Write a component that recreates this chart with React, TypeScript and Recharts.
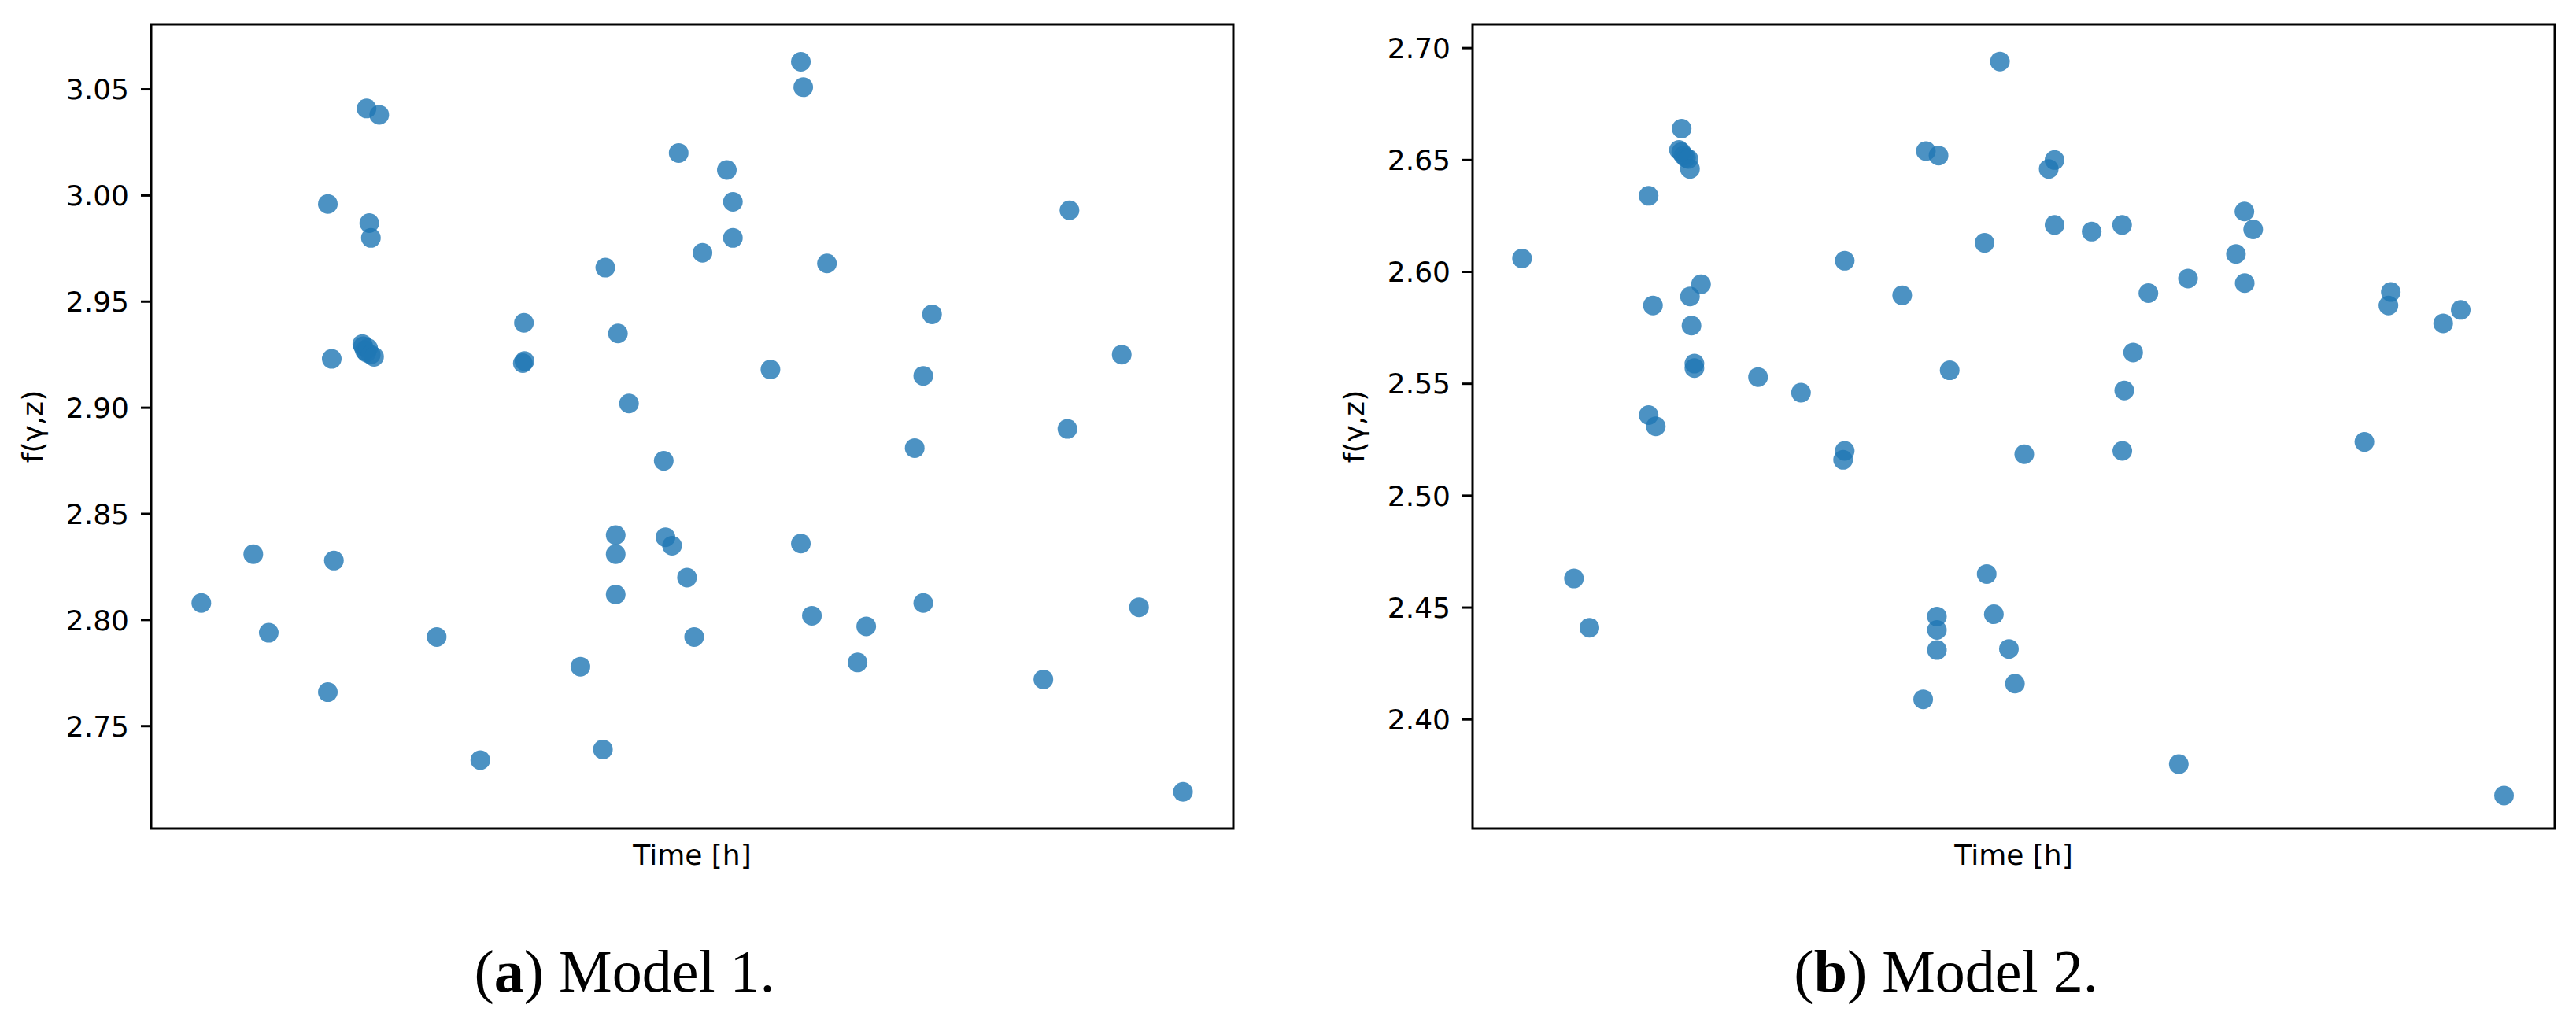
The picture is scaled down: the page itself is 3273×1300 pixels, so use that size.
import React from 'react';
import { ScatterChart, Scatter, XAxis, YAxis, ReferenceArea, Label } from 'recharts';

// Model 1: time (as % of the run) and f(γ,z)
const timeA = [
  4.64, 9.44, 10.87, 16.33, 16.33, 16.69, 16.89,
  19.52, 19.6, 19.75, 19.9, 20.05, 20.3, 20.6,
  19.91, 20.16, 20.31, 21.08, 26.39, 30.42, 34.35, 34.45, 34.5,
  39.67, 41.75, 41.97, 42.93, 42.93, 42.93, 43.14, 44.16,
  47.37, 47.53, 48.14, 48.75, 49.52, 50.18, 50.95,
  53.2, 53.76, 53.76, 57.23, 60.04, 60.26, 60.04, 61.06, 62.45,
  65.28, 66.08, 70.56, 71.35, 71.35, 72.16,
  82.45, 84.67, 84.86, 89.69, 91.29, 95.35,
];
const fA = [
  2.808, 2.831, 2.794, 2.766, 2.996, 2.923, 2.828,
  2.930, 2.929, 2.927, 2.926, 2.928, 2.925, 2.924,
  3.041, 2.987, 2.980, 3.038, 2.792, 2.734, 2.921, 2.940, 2.922,
  2.778, 2.739, 2.966, 2.840, 2.831, 2.812, 2.935, 2.902,
  2.875, 2.839, 2.835, 3.020, 2.820, 2.792, 2.973,
  3.012, 2.997, 2.980, 2.918, 3.063, 3.051, 2.836, 2.802, 2.968,
  2.780, 2.797, 2.881, 2.915, 2.808, 2.944,
  2.772, 2.890, 2.993, 2.925, 2.806, 2.719,
];

// Model 2
const timeB = [
  4.57, 9.37, 10.8, 16.27, 16.27, 16.67, 16.93,
  19.07, 19.29, 19.32, 19.51, 19.72, 19.94, 20.09, 20.09, 20.23, 20.5, 20.5, 21.11,
  26.38, 30.35, 34.24, 34.39, 34.39, 39.7,
  41.64, 41.89, 42.91, 42.91, 42.91, 43.06, 44.09,
  47.31, 47.51, 48.17, 48.73, 49.56, 50.12, 50.98,
  53.24, 53.78, 53.78, 57.21, 60.02, 60.04, 60.22, 61.04, 62.45,
  65.26, 66.11, 70.54, 71.32, 71.35, 72.13,
  82.41, 84.63, 84.85, 89.69, 91.31, 95.31,
];
const fB = [
  2.606, 2.463, 2.441, 2.634, 2.536, 2.585, 2.531,
  2.6545, 2.6535, 2.664, 2.652, 2.651, 2.6505, 2.646, 2.589, 2.576, 2.559, 2.557, 2.5945,
  2.553, 2.546, 2.516, 2.520, 2.605, 2.5895,
  2.409, 2.654, 2.446, 2.440, 2.431, 2.652, 2.556,
  2.613, 2.465, 2.447, 2.694, 2.4315, 2.416, 2.5185,
  2.646, 2.650, 2.621, 2.618, 2.621, 2.520, 2.547, 2.564, 2.5905,
  2.380, 2.597, 2.608, 2.627, 2.595, 2.619,
  2.524, 2.585, 2.591, 2.577, 2.583, 2.366,
];

const ticksA = [2.75, 2.8, 2.85, 2.9, 2.95, 3.0, 3.05];
const ticksB = [2.4, 2.45, 2.5, 2.55, 2.6, 2.65, 2.7];
const domainA: [number, number] = [2.7017, 3.0806];
const domainB: [number, number] = [2.3512, 2.7106];
const timeDomain: [number, number] = [0, 100];

const SANS = '"DejaVu Sans", sans-serif';
const SERIF = '"Liberation Serif", serif';
const BLUE = '#1f77b4';

const toRows = (t: number[], f: number[]) => t.map((v, i) => ({ t: v, f: f[i] }));

const Dot = (props: any) => (
  <circle cx={props.cx} cy={props.cy} r={12.5} fill={BLUE} fillOpacity={0.8} />
);

const yLabel = (props: any) => {
  const vb = props.viewBox;
  const x = vb.x + 41;
  const y = vb.y + vb.height / 2;
  return (
    <text x={x} y={y} transform={`rotate(-90, ${x}, ${y})`} textAnchor="middle"
      dominantBaseline="central" fontFamily={SANS} fontSize={36} fill="#000">
      f(γ,z)
    </text>
  );
};

const xLabel = (tag: string, model: string) => (props: any) => {
  const vb = props.viewBox;
  const cx = vb.x + vb.width / 2;
  return (
    <g>
      <text x={cx} y={vb.y + 46} textAnchor="middle" fontFamily={SANS} fontSize={36} fill="#000">
        Time [h]
      </text>
      <text x={cx - 86} y={vb.y + 207} textAnchor="middle" fontFamily={SERIF} fontSize={76} fill="#000">
        (<tspan fontWeight="bold">{tag}</tspan>) Model {model}.
      </text>
    </g>
  );
};

interface PanelProps {
  rows: { t: number; f: number }[];
  domain: [number, number];
  ticks: number[];
  tag: string;
  model: string;
  left: number;
  width: number;
  rightMargin: number;
}

const Panel: React.FC<PanelProps> = ({ rows, domain, ticks, tag, model, left, width, rightMargin }) => (
  <div style={{ position: 'absolute', left, top: 0 }}>
    <ScatterChart width={width} height={1300} margin={{ top: 31, right: rightMargin, bottom: 0, left: 0 }}>
      <XAxis type="number" dataKey="t" domain={timeDomain} allowDataOverflow
        tick={false} tickLine={false} axisLine={false} height={247}>
        <Label content={xLabel(tag, model)} />
      </XAxis>
      <YAxis type="number" dataKey="f" domain={domain} ticks={ticks} allowDataOverflow
        width={192} axisLine={false} tickSize={13} tickMargin={15}
        tickLine={{ stroke: '#000', strokeWidth: 3 }}
        tick={{ fill: '#000', fontSize: 36, fontFamily: SANS }}
        tickFormatter={(v: number) => v.toFixed(2)}>
        <Label content={yLabel} />
      </YAxis>
      <Scatter data={rows} dataKey="f" shape={Dot} isAnimationActive={false} />
      <ReferenceArea x1={timeDomain[0]} x2={timeDomain[1]} y1={domain[0]} y2={domain[1]}
        fill="none" stroke="#000" strokeWidth={3} ifOverflow="visible" />
    </ScatterChart>
  </div>
);

export default function App() {
  return (
    <div style={{ position: 'absolute', left: 0, top: 0, width: 3273, height: 1300, background: '#fff' }}>
      <Panel rows={toRows(timeA, fA)} domain={domainA} ticks={ticksA} tag="a" model="1"
        left={0} width={1640} rightMargin={73} />
      <Panel rows={toRows(timeB, fB)} domain={domainB} ticks={ticksB} tag="b" model="2"
        left={1679} width={1594} rightMargin={27} />
    </div>
  );
}
